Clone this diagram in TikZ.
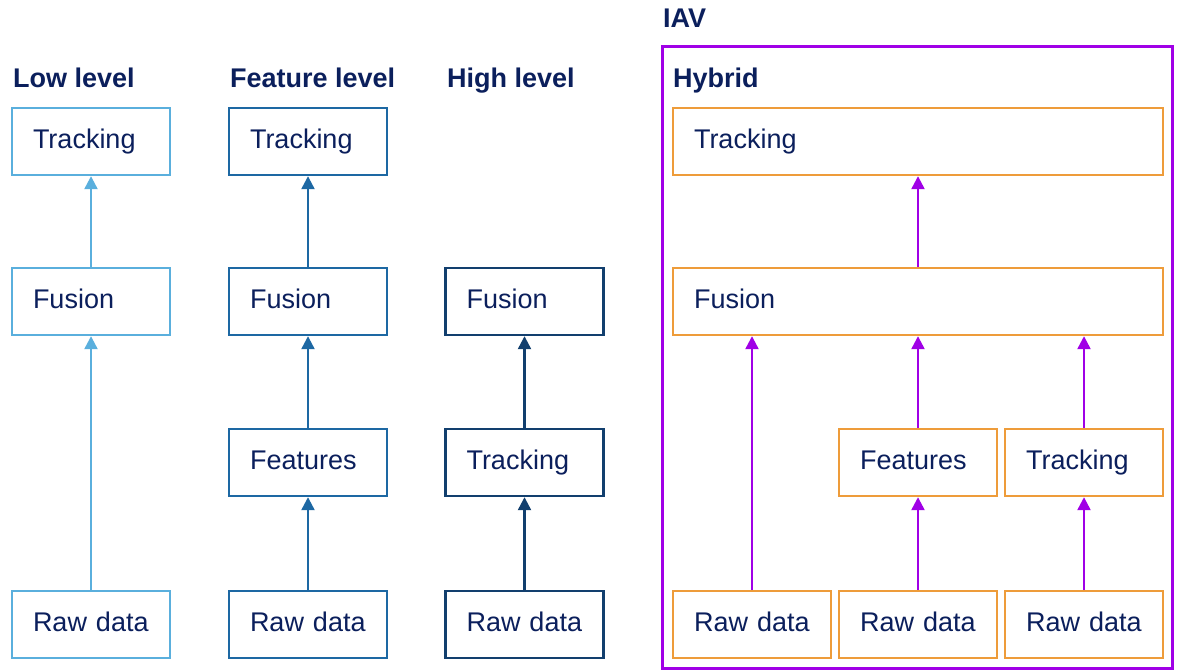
\documentclass[tikz,border=0pt]{standalone}
\usepackage{fontspec}
\setmainfont{Liberation Sans}
\usetikzlibrary{arrows.meta}
\definecolor{navy}{HTML}{0B1F5C}
\definecolor{lblue}{HTML}{5AAFDD}
\definecolor{mblue}{HTML}{1D68A3}
\definecolor{dblue}{HTML}{123F6E}
\definecolor{orng}{HTML}{EE9C3A}
\definecolor{purp}{HTML}{A000E6}
\tikzset{
  box/.style={draw, line width=2.4pt, minimum height=67pt, text width=116pt, inner xsep=21pt, inner ysep=0pt,
    align=left, text height=19pt, text depth=5pt, text=navy, font=\fontsize{27}{32}\selectfont, fill=white},
  wide/.style={box, text width=448pt},
  conn/.style={line width=2.3pt, -{Triangle[width=13pt,length=13pt]}},
  title/.style={anchor=base west, inner sep=0pt, text=navy, font=\fontsize{27}{32}\selectfont\bfseries},
}
\begin{document}
\begin{tikzpicture}[x=1pt,y=1pt]
\useasboundingbox (0,0) rectangle (1180,671);
% titles
\node[title] (tlow) at (13,583) {Low level};
\node[title] (tfeat) at (230,583) {Feature level};
\node[title] (thigh) at (447,583) {High level};
\node[title] (tiav) at (663,643) {IAV};
\node[title] (thyb) at (673,583) {Hybrid};
% column 1
\node[box, draw=lblue] (l-trk) at (91,529.5) {Tracking};
\node[box, draw=lblue] (l-fus) at (91,369.5) {Fusion};
\node[box, draw=lblue] (l-raw) at (91,46.5) {Raw data};
\draw[conn, lblue] (l-raw) -- (l-fus);
\draw[conn, lblue] (l-fus) -- (l-trk);
% column 2
\node[box, draw=mblue] (f-trk) at (308,529.5) {Tracking};
\node[box, draw=mblue] (f-fus) at (308,369.5) {Fusion};
\node[box, draw=mblue] (f-fea) at (308,208.5) {Features};
\node[box, draw=mblue] (f-raw) at (308,46.5) {Raw data};
\draw[conn, mblue] (f-raw) -- (f-fea);
\draw[conn, mblue] (f-fea) -- (f-fus);
\draw[conn, mblue] (f-fus) -- (f-trk);
% column 3
\node[box, draw=dblue] (h-fus) at (524.5,369.5) {Fusion};
\node[box, draw=dblue] (h-trk) at (524.5,208.5) {Tracking};
\node[box, draw=dblue] (h-raw) at (524.5,46.5) {Raw data};
\draw[conn, dblue] (h-raw) -- (h-trk);
\draw[conn, dblue] (h-trk) -- (h-fus);
% hybrid
\draw[purp, line width=3pt] (662.5,2) rectangle (1172.5,624);
\node[wide, draw=orng] (y-trk) at (918,529.5) {Tracking};
\node[wide, draw=orng] (y-fus) at (918,369.5) {Fusion};
\node[box, draw=orng] (y-fea) at (918,208.5) {Features};
\node[box, draw=orng] (y-tk2) at (1084,208.5) {Tracking};
\node[box, draw=orng] (y-r1) at (752,46.5) {Raw data};
\node[box, draw=orng] (y-r2) at (918,46.5) {Raw data};
\node[box, draw=orng] (y-r3) at (1084,46.5) {Raw data};
\draw[conn, purp] (y-r1.north) -- (y-r1.north |- y-fus.south);
\draw[conn, purp] (y-r2) -- (y-fea);
\draw[conn, purp] (y-r3) -- (y-tk2);
\draw[conn, purp] (y-fea) -- (y-fea |- y-fus.south);
\draw[conn, purp] (y-tk2) -- (y-tk2 |- y-fus.south);
\draw[conn, purp] (y-fus.north) -- (y-trk.south);
\end{tikzpicture}
\end{document}
